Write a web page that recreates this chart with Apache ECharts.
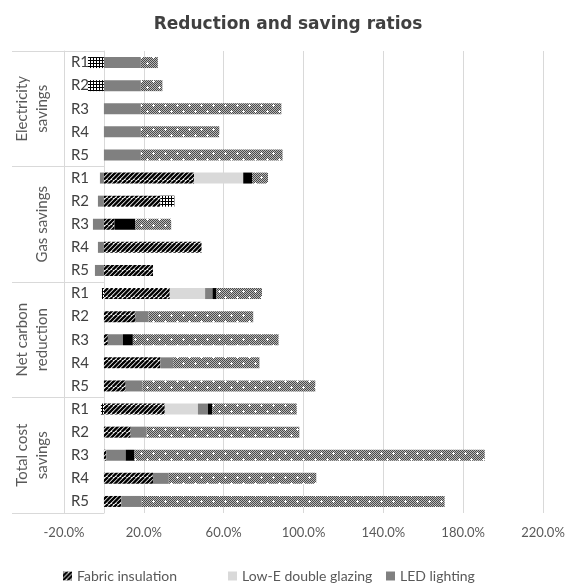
<!DOCTYPE html>
<html>
<head>
<meta charset="utf-8">
<title>Reduction and saving ratios</title>
<script src="https://cdn.jsdelivr.net/npm/echarts@6/dist/echarts.min.js"></script>
<style>
  html, body { margin: 0; padding: 0; background: #fff; }
  #chart { width: 576px; height: 585px; }
</style>
</head>
<body>
<div id="chart"></div>
<script>
// categories: 4 groups x 5 scenarios, top to bottom
const groups = ['Electricity\nsavings', 'Gas savings', 'Net carbon\nreduction', 'Total cost\nsavings']
const scenarios = ['R1', 'R2', 'R3', 'R4', 'R5']
// x axis ticks: -20% .. 220% every 40%
const xMin = -20
const xMax = 220
const xStep = 40

// values in %, order: electricity R1-R5, gas R1-R5, net carbon R1-R5, total cost R1-R5
const fabric = [0, 0, 0, 0, 0, 45.2, 28.3, 5.3, 48.9, 24.6, 33.0, 15.9, 2.0, 28.3, 10.9, 30.5, 13.4, 1.2, 24.6, 8.7]
const lowE = [0, 0, 0, 0, 0, 24.6, 0, 0, 0, 0, 17.7, 0, 0, 0, 0, 16.6, 0, 0, 0, 0]
const led = [18.5, 18.5, 18.5, 18.5, 18.5, -2.0, -3.0, -5.5, -3.0, -4.5, 3.7, 6.5, 7.5, 6.4, 8.4, 5.0, 8.0, 9.7, 7.9, 10.3]
const blackPart = [0, 0, 0, 0, 0, 4.4, 0, 10.5, 0, 0, 2.0, 0, 5.0, 0, 0, 2.2, 0, 4.4, 0, 0]
const dottedPart = [8.5, 10.8, 70.4, 39.3, 71.0, 8.0, 0, 17.9, 0, 0, 22.8, 52.4, 73.0, 43.2, 86.6, 42.3, 76.5, 175.5, 73.9, 151.7]
const checkPart = [-8.0, -8.0, 0, 0, 0, 0, 7.0, 0, 0, 0, -1.0, 0, 0, 0, 0, -1.5, 0, 0, 0, 0]

const categories = []
groups.forEach(g => scenarios.forEach(r => categories.push(g + '|' + r)))

// fill patterns (Excel style)
function tile (size, draw) {
  const c = document.createElement('canvas')
  c.width = size
  c.height = size
  draw(c.getContext('2d'))
  return { image: c, repeat: 'repeat' }
}
const hatch = tile(9, g => {
  g.fillStyle = '#fff'
  g.fillRect(0, 0, 9, 9)
  g.strokeStyle = '#000'
  g.lineWidth = 2.3
  for (let k = -9; k <= 18; k += 4.5) {
    g.beginPath()
    g.moveTo(k, 9)
    g.lineTo(k + 9, 0)
    g.stroke()
  }
})
const dotted = tile(12, g => {
  g.fillStyle = '#b8b8b8'
  g.fillRect(0, 0, 12, 12)
  g.fillStyle = '#4a4a4a'
  for (let x = 0; x < 12; x++) {
    for (let y = 0; y < 12; y++) {
      if ((x + y) % 2 === 0) g.fillRect(x, y, 1, 1)
    }
  }
  g.fillStyle = '#fff'
  ;[[3, 3], [9, 9]].forEach(p => {
    g.fillRect(p[0] - 1, p[1], 3, 1)
    g.fillRect(p[0], p[1] - 1, 1, 3)
  })
})
const check = tile(3, g => {
  g.fillStyle = '#000'
  g.fillRect(0, 0, 3, 3)
  g.fillStyle = '#fff'
  g.fillRect(1, 1, 2, 2)
})

const font = 'Lato, "Open Sans", sans-serif'
const legendBase = {
  top: 564,
  icon: 'rect',
  itemWidth: 9,
  itemHeight: 9,
  selectedMode: false,
  textStyle: { fontFamily: font, fontSize: 14, color: '#595959' }
}

function barSeries (name, data, color) {
  return {
    name: name,
    type: 'bar',
    stack: 'all',
    barWidth: 11,
    data: data,
    itemStyle: { color: color },
    emphasis: { disabled: true }
  }
}

const chart = echarts.init(document.getElementById('chart'))
chart.setOption({
  animation: false,
  title: {
    text: 'Reduction and saving ratios',
    left: 'center',
    top: 11,
    textStyle: { fontFamily: '"DejaVu Sans", sans-serif', fontSize: 17, fontWeight: 'bold', color: '#404040' }
  },
  legend: [
    Object.assign({ data: ['Fabric insulation'], left: 58 }, legendBase),
    Object.assign({ data: ['Low-E double glazing'], left: 223 }, legendBase),
    Object.assign({ data: ['LED lighting'], left: 381 }, legendBase)
  ],
  grid: { left: 64, right: 33, top: 51, bottom: 72, outerBoundsMode: 'none' },
  xAxis: {
    type: 'value',
    min: xMin,
    max: xMax,
    interval: xStep,
    axisLine: { show: false },
    axisTick: { show: false },
    splitLine: { show: true, showMinLine: true, lineStyle: { color: '#d9d9d9', width: 1 } },
    axisLabel: {
      margin: 13,
      fontFamily: font,
      fontSize: 13,
      color: '#595959',
      formatter: v => v.toFixed(1) + '%'
    }
  },
  yAxis: [
    {
      // scenario axis, moved onto the 0% line
      type: 'category',
      position: 'left',
      offset: -40,
      inverse: true,
      data: categories,
      axisLine: { show: true, onZero: false, lineStyle: { color: '#d9d9d9' } },
      axisTick: {
        show: true,
        length: 92,
        interval: i => i % 5 === 0,
        lineStyle: { color: '#d9d9d9' }
      },
      axisLabel: {
        margin: 15,
        fontFamily: font,
        fontSize: 15,
        color: '#404040',
        formatter: v => v.split('|')[1]
      }
    },
    {
      // group axis
      type: 'category',
      position: 'left',
      inverse: true,
      data: groups,
      axisLine: { show: true, onZero: false, lineStyle: { color: '#d9d9d9' } },
      axisTick: { show: false },
      axisLabel: {
        rotate: 90,
        margin: 12,
        align: 'center',
        verticalAlign: 'bottom',
        lineHeight: 20,
        fontFamily: font,
        fontSize: 15,
        color: '#595959'
      }
    }
  ],
  series: [
    barSeries('Fabric insulation', fabric, hatch),
    barSeries('Low-E double glazing', lowE, '#d9d9d9'),
    barSeries('LED lighting', led, '#808080'),
    barSeries('Heating controls', blackPart, '#000'),
    barSeries('Other measures', dottedPart, dotted),
    barSeries('Other savings', checkPart, check)
  ]
})
</script>
</body>
</html>
